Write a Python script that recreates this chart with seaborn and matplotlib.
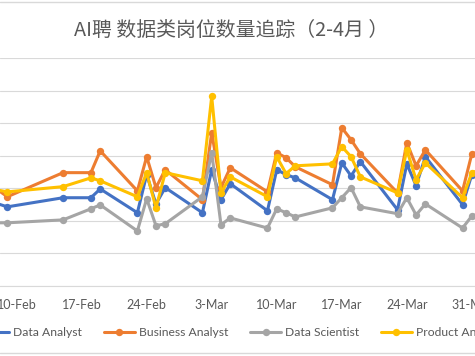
import matplotlib
matplotlib.use("Agg")
import matplotlib.pyplot as plt
from matplotlib.lines import Line2D
import pandas as pd
import seaborn as sns

# ---------------- data ----------------
dates = ['2021-02-05', '2021-02-09', '2021-02-15', '2021-02-18', '2021-02-19',
         '2021-02-23', '2021-02-24', '2021-02-25', '2021-02-26', '2021-03-02',
         '2021-03-03', '2021-03-04', '2021-03-05', '2021-03-09', '2021-03-10',
         '2021-03-11', '2021-03-12', '2021-03-16', '2021-03-17', '2021-03-18',
         '2021-03-19', '2021-03-23', '2021-03-24', '2021-03-25', '2021-03-26',
         '2021-03-30', '2021-03-31', '2021-04-01']
roles = ['Data Analyst', 'Business Analyst', 'Data Scientist', 'Product Analyst']
data_analyst = [280, 243, 271, 271, 298, 225, 342, 252, 302, 225, 357, 265, 314, 231,
                357, 342, 332, 265, 378, 338, 382, 234, 375, 308, 397, 250, 342, 351]
business_analyst = [357, 274, 348, 348, 415, 292, 397, 302, 357, 265, 471, 302, 363, 289,
                    409, 394, 366, 311, 486, 449, 406, 286, 440, 369, 418, 292, 406, 412]
data_scientist = [194, 194, 203, 237, 249, 169, 268, 185, 191, 274, 409, 188, 209, 178,
                  237, 225, 212, 240, 271, 302, 243, 222, 271, 218, 252, 178, 215, 222]
product_analyst = [311, 289, 305, 332, 323, 274, 348, 240, 348, 323, 582, 286, 335, 274,
                   397, 345, 369, 375, 428, 397, 335, 286, 418, 326, 378, 271, 348, 357]
tick_dates = ['2021-02-10', '2021-02-17', '2021-02-24', '2021-03-03',
              '2021-03-10', '2021-03-17', '2021-03-24', '2021-03-31']
tick_labels = ['10-Feb', '17-Feb', '24-Feb', '3-Mar', '10-Mar', '17-Mar', '24-Mar', '31-Mar']
title = 'AI聘 数据类岗位数量追踪（2-4月 ）'

series = [data_analyst, business_analyst, data_scientist, product_analyst]
frames = []
for role, vals in zip(roles, series):
    frames.append(pd.DataFrame({'date': pd.to_datetime(dates), 'count': vals, 'role': role}))
df = pd.concat(frames, ignore_index=True)

# ---------------- style ----------------
sns.set_style('white')
plt.rcParams['font.family'] = ['Lato', 'DejaVu Sans']
grey_txt = '#595959'
grid_c = '#d9d9d9'
palette = {'Data Analyst': '#4472C4', 'Business Analyst': '#ED7D31',
           'Data Scientist': '#A5A5A5', 'Product Analyst': '#FFC000'}

W, H = 475, 356
fig = plt.figure(figsize=(W / 100, H / 100), dpi=100)
ax = fig.add_axes([0, (H - 286) / H, 1, (286 - 58) / H])

sns.lineplot(data=df, x='date', y='count', hue='role', hue_order=roles, palette=palette,
             marker='o', markersize=5.3, markeredgewidth=0, linewidth=2.2,
             legend=False, ax=ax)

d0 = pd.Timestamp('2021-02-10')
ax.set_xlim(d0 + pd.Timedelta(days=-1.787), d0 + pd.Timedelta(days=49.34))
ax.set_ylim(0, 700)
ax.set_yticks(range(0, 701, 100))
ax.yaxis.grid(True, color=grid_c, linewidth=0.8)
ax.xaxis.grid(False)
ax.tick_params(axis='y', left=False, labelleft=False)

tk = pd.to_datetime(tick_dates)
ax.set_xticks(tk)
ax.set_xticklabels(tick_labels)
ax.set_xticks([t - pd.Timedelta(hours=12) for t in tk], minor=True)
ax.tick_params(axis='x', which='major', length=0, pad=9.5, labelsize=9, labelcolor=grey_txt)
ax.tick_params(axis='x', which='minor', length=4, width=0.8, color=grid_c, direction='out')
ax.set_xlabel('')
ax.set_ylabel('')
for s in ['top', 'left', 'right']:
    ax.spines[s].set_visible(False)
ax.spines['bottom'].set_color(grid_c)
ax.spines['bottom'].set_linewidth(0.8)

# legend from the plotted series
handles = ax.get_lines()[:4]
leg = fig.legend(handles, roles, loc='center left', bbox_to_anchor=(-22 / W, (H - 333) / H),
                 ncol=4, frameon=False, fontsize=8.7, handlelength=2.6, handletextpad=0.3,
                 columnspacing=1.8, borderpad=0, borderaxespad=0)
for t in leg.get_texts():
    t.set_color(grey_txt)

fig.text(231 / W, 1 - 30 / H, title, ha='center', va='center', fontsize=14.3, color=grey_txt,
         family=['Noto Sans CJK SC', 'DejaVu Sans'])

# chart area outline (top / bottom edges visible in the crop)
for yp in (2, 353):
    fig.add_artist(Line2D([0, 1], [1 - yp / H, 1 - yp / H], transform=fig.transFigure,
                          color=grid_c, linewidth=1.0))

fig.savefig('out.png', dpi=100)
